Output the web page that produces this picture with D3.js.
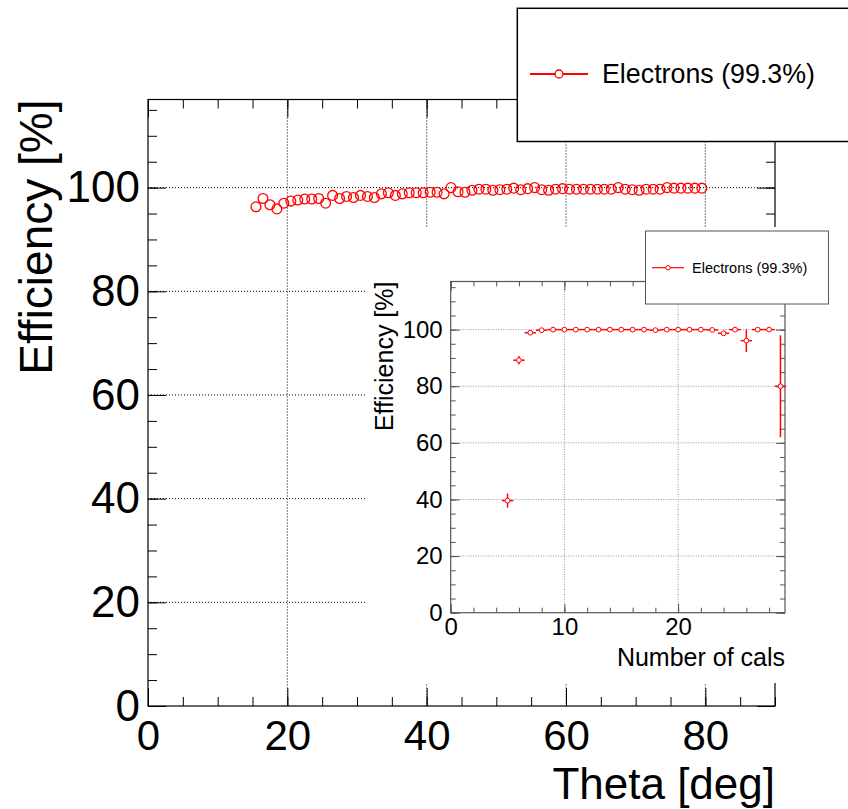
<!DOCTYPE html>
<html>
<head>
<meta charset="utf-8">
<script src="https://cdn.jsdelivr.net/npm/d3@7"></script>
<style>
  body { margin: 0; background: #fff; }
  svg { display: block; font-family: "Liberation Sans", Arial, Helvetica, sans-serif; }
</style>
</head>
<body>
<svg id="chart" width="848" height="809"></svg>
<script>
// main plot: efficiency vs theta, 1 deg bins
const thetaBins = [15.5, 16.5, 17.5, 18.5, 19.5, 20.5, 21.5, 22.5, 23.5, 24.5,
  25.5, 26.5, 27.5, 28.5, 29.5, 30.5, 31.5, 32.5, 33.5, 34.5,
  35.5, 36.5, 37.5, 38.5, 39.5, 40.5, 41.5, 42.5, 43.5, 44.5,
  45.5, 46.5, 47.5, 48.5, 49.5, 50.5, 51.5, 52.5, 53.5, 54.5,
  55.5, 56.5, 57.5, 58.5, 59.5, 60.5, 61.5, 62.5, 63.5, 64.5,
  65.5, 66.5, 67.5, 68.5, 69.5, 70.5, 71.5, 72.5, 73.5, 74.5,
  75.5, 76.5, 77.5, 78.5, 79.5];
const thetaEff = [96.3, 97.9, 96.7, 95.9, 97.0, 97.4, 97.6, 97.8, 97.8, 97.9,
  97.0, 98.5, 97.9, 98.3, 98.1, 98.5, 98.3, 98.1, 98.8, 99.0,
  98.5, 98.8, 99.0, 99.0, 99.0, 99.1, 99.1, 98.8, 100.0, 99.2,
  99.1, 99.5, 99.7, 99.7, 99.5, 99.6, 99.7, 99.9, 99.6, 99.8,
  100.0, 99.6, 99.5, 99.7, 99.8, 99.7, 99.7, 99.7, 99.7, 99.7,
  99.7, 99.7, 100.0, 99.7, 99.6, 99.5, 99.7, 99.7, 99.7, 100.0,
  99.9, 99.9, 99.9, 99.9, 99.9];

// inset: efficiency vs number of cals
const calBins = [5, 6, 7, 8, 9, 10, 11, 12, 13, 14, 15, 16, 17, 18, 19, 20,
  21, 22, 23, 24, 25, 26, 27, 28, 29];
const calEff = [39.6, 89.2, 98.9, 99.8, 100, 100, 100, 100, 100, 100, 100, 100, 100, 99.8, 100, 100,
  100, 100, 99.9, 98.7, 100, 96.1, 100, 100, 80.0];
const calErrLow = [2.5, 1.5, 0.5, 0.2, 0, 0, 0, 0, 0, 0, 0, 0, 0, 0.2, 0, 0,
  0, 0, 0.1, 0.8, 0, 4.0, 0, 0, 18.0];
const calErrHigh = [2.5, 1.5, 0.4, 0.1, 0, 0, 0, 0, 0, 0, 0, 0, 0, 0.1, 0, 0,
  0, 0, 0.1, 0.6, 0, 3.9, 0, 0, 18.0];

const thetaTicks = [0, 20, 40, 60, 80];
const effTicks = [0, 20, 40, 60, 80, 100];
const calTicks = [0, 10, 20];
const legendLabel = "Electrons (99.3%)";

const svg = d3.select("#chart");
const red = "#ff0000";

// draws ROOT style ticks (inside the frame) on one side
function rootAxis(g, axisFn, scale, major, minor, majorLen, minorLen, labels, fontSize, pad, color) {
  g.append("g")
    .call(axisFn(scale).tickValues(minor).tickSize(-minorLen).tickFormat(""))
    .call(a => a.select(".domain").remove())
    .selectAll("line").attr("stroke", color);
  const ax = g.append("g")
    .call(axisFn(scale).tickValues(major).tickSize(-majorLen).tickPadding(pad)
      .tickFormat(labels ? d3.format("d") : ""))
    .call(a => a.select(".domain").remove());
  ax.selectAll("line").attr("stroke", color);
  ax.selectAll("text").attr("fill", "#000").style("font-size", fontSize + "px");
  ax.attr("font-family", null);
  return ax;
}

// ---------- main plot ----------
const M = {left: 148, right: 775, top: 99.5, bottom: 706};
const x = d3.scaleLinear().domain([0, 90]).range([M.left, M.right]);
const y = d3.scaleLinear().domain([0, 117]).range([M.bottom, M.top]);

const main = svg.append("g");

// grid
main.append("g").selectAll("line").data(thetaTicks.slice(1)).join("line")
  .attr("x1", d => x(d)).attr("x2", d => x(d))
  .attr("y1", M.top).attr("y2", M.bottom)
  .attr("stroke", "#000").attr("stroke-width", 1).attr("stroke-dasharray", "1,2");
main.append("g").selectAll("line").data(effTicks.slice(1)).join("line")
  .attr("x1", M.left).attr("x2", M.right)
  .attr("y1", d => y(d)).attr("y2", d => y(d))
  .attr("stroke", "#000").attr("stroke-width", 1).attr("stroke-dasharray", "1,2");

const xMinor = d3.range(0, 90.1, 5);
const yMinor = d3.range(0, 116, 5);

const bottomAx = main.append("g").attr("transform", `translate(0,${M.bottom})`);
rootAxis(bottomAx, d3.axisBottom, x, thetaTicks, xMinor, 18, 9, true, 42, 14, "#000");
const topAx = main.append("g").attr("transform", `translate(0,${M.top})`);
rootAxis(topAx, d3.axisTop, x, thetaTicks, xMinor, 18, 9, false, 44, 0, "#000");
const leftAx = main.append("g").attr("transform", `translate(${M.left},0)`);
rootAxis(leftAx, d3.axisLeft, y, effTicks, yMinor, 18, 9, true, 44, 8, "#000");
const rightAx = main.append("g").attr("transform", `translate(${M.right},0)`);
rootAxis(rightAx, d3.axisRight, y, effTicks, yMinor, 18, 9, false, 44, 0, "#000");

main.append("rect")
  .attr("x", M.left).attr("y", M.top)
  .attr("width", M.right - M.left).attr("height", M.bottom - M.top)
  .attr("fill", "none").attr("stroke", "#000").attr("stroke-width", 1.2);

main.append("text")
  .attr("x", M.right).attr("y", 799)
  .attr("text-anchor", "end").style("font-size", "44px")
  .text("Theta [deg]");
main.append("text")
  .attr("transform", `translate(52,${M.top}) rotate(-90)`)
  .attr("text-anchor", "end").style("font-size", "46px")
  .text("Efficiency [%]");

main.append("g").selectAll("circle").data(thetaBins).join("circle")
  .attr("cx", d => x(d))
  .attr("cy", (d, i) => y(thetaEff[i]))
  .attr("r", 4.9)
  .attr("fill", "none").attr("stroke", red).attr("stroke-width", 1.3);

// ---------- inset pad ----------
svg.append("rect")
  .attr("x", 365).attr("y", 227).attr("width", 483).attr("height", 456)
  .attr("fill", "#fff");

const I = {left: 450.7, right: 785, top: 281.5, bottom: 612.7};
const xi = d3.scaleLinear().domain([0, 29.4]).range([I.left, I.right]);
const yi = d3.scaleLinear().domain([0, 117]).range([I.bottom, I.top]);
const inset = svg.append("g");
const grey = "#555";

inset.append("g").selectAll("line").data(calTicks.slice(1)).join("line")
  .attr("x1", d => xi(d)).attr("x2", d => xi(d))
  .attr("y1", I.top).attr("y2", I.bottom)
  .attr("stroke", "#999").attr("stroke-width", 1).attr("stroke-dasharray", "1,1.5");
inset.append("g").selectAll("line").data(effTicks.slice(1)).join("line")
  .attr("x1", I.left).attr("x2", I.right)
  .attr("y1", d => yi(d)).attr("y2", d => yi(d))
  .attr("stroke", "#999").attr("stroke-width", 1).attr("stroke-dasharray", "1,1.5");

const xiMinor = d3.range(0, 29.4, 2);
const iBottom = inset.append("g").attr("transform", `translate(0,${I.bottom})`);
rootAxis(iBottom, d3.axisBottom, xi, calTicks, xiMinor, 9, 5, true, 24, 5, grey);
const iTop = inset.append("g").attr("transform", `translate(0,${I.top})`);
rootAxis(iTop, d3.axisTop, xi, calTicks, xiMinor, 9, 5, false, 24, 0, grey);
const iLeft = inset.append("g").attr("transform", `translate(${I.left},0)`);
rootAxis(iLeft, d3.axisLeft, yi, effTicks, yMinor, 9, 5, true, 24, 8, grey);
const iRight = inset.append("g").attr("transform", `translate(${I.right},0)`);
rootAxis(iRight, d3.axisRight, yi, effTicks, yMinor, 9, 5, false, 24, 0, grey);

inset.append("rect")
  .attr("x", I.left).attr("y", I.top)
  .attr("width", I.right - I.left).attr("height", I.bottom - I.top)
  .attr("fill", "none").attr("stroke", grey).attr("stroke-width", 1.2);

inset.append("text")
  .attr("x", I.right).attr("y", 666)
  .attr("text-anchor", "end").style("font-size", "25px")
  .text("Number of cals");
inset.append("text")
  .attr("transform", `translate(393,${I.top}) rotate(-90)`)
  .attr("text-anchor", "end").style("font-size", "25px")
  .text("Efficiency [%]");

// error bars: x = +-half bin, y = asymmetric
const pts = inset.append("g");
pts.selectAll("line.ex").data(calBins).join("line").attr("class", "ex")
  .attr("x1", d => xi(d - 0.5)).attr("x2", d => xi(d + 0.5))
  .attr("y1", (d, i) => yi(calEff[i])).attr("y2", (d, i) => yi(calEff[i]))
  .attr("stroke", red).attr("stroke-width", 1.5);
pts.selectAll("line.ey").data(calBins).join("line").attr("class", "ey")
  .attr("x1", d => xi(d)).attr("x2", d => xi(d))
  .attr("y1", (d, i) => yi(calEff[i] - calErrLow[i]))
  .attr("y2", (d, i) => yi(calEff[i] + calErrHigh[i]))
  .attr("stroke", red).attr("stroke-width", 1.5);
pts.selectAll("circle").data(calBins).join("circle")
  .attr("cx", d => xi(d))
  .attr("cy", (d, i) => yi(calEff[i]))
  .attr("r", 2.4)
  .attr("fill", "#fff").attr("stroke", red).attr("stroke-width", 1);

// inset legend
const il = svg.append("g");
il.append("rect").attr("x", 645.5).attr("y", 231).attr("width", 183).attr("height", 73)
  .attr("fill", "#fff").attr("stroke", grey).attr("stroke-width", 1);
il.append("line").attr("x1", 652).attr("x2", 684).attr("y1", 267.7).attr("y2", 267.7)
  .attr("stroke", red).attr("stroke-width", 1.2);
il.append("circle").attr("cx", 668).attr("cy", 267.7).attr("r", 2.2)
  .attr("fill", "#fff").attr("stroke", red).attr("stroke-width", 1);
il.append("text").attr("x", 692).attr("y", 267.7).attr("dominant-baseline", "central")
  .style("font-size", "14.5px").text(legendLabel);

// main legend, on top of everything
const ml = svg.append("g");
ml.append("rect").attr("x", 517.3).attr("y", 8.3).attr("width", 345).attr("height", 133.2)
  .attr("fill", "#fff").attr("stroke", "#000").attr("stroke-width", 1.5);
ml.append("line").attr("x1", 530).attr("x2", 588).attr("y1", 74).attr("y2", 74)
  .attr("stroke", red).attr("stroke-width", 2);
ml.append("circle").attr("cx", 559).attr("cy", 74).attr("r", 4)
  .attr("fill", "#fff").attr("stroke", red).attr("stroke-width", 1.3);
ml.append("text").attr("x", 602).attr("y", 74).attr("dominant-baseline", "central")
  .style("font-size", "26.8px").text(legendLabel);
</script>
</body>
</html>
